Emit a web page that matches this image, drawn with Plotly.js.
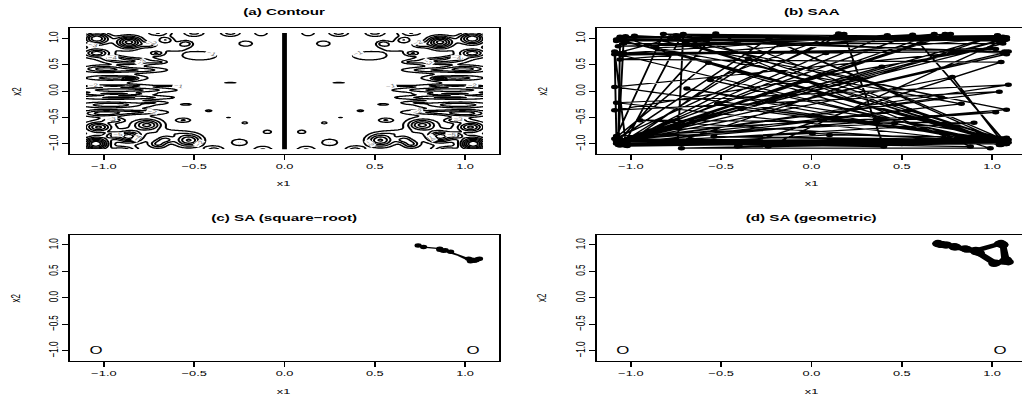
<!DOCTYPE html>
<html><head><meta charset="utf-8">
<script src="https://cdn.plot.ly/plotly-3.0.1.min.js"></script>
<style>
html,body{margin:0;padding:0;overflow:hidden;background:#fff;width:1022px;height:398px}
#wrap{width:645px;height:398px;transform:scaleX(1.6);transform-origin:0 0}
</style></head><body><div id="wrap"></div><script>
// ---------- tick labels ----------
const tickVals = [-1, -0.5, 0, 0.5, 1];
const tickText = ["\u22121.0", "\u22120.5", "0.0", "0.5", "1.0"];
const panelTitles = ["(a) Contour", "(b) SAA", "(c) SA (square\u2212root)", "(d) SA (geometric)"];

// ---------- (a) contour features (left half; the picture is mirror-symmetric in x1) ----------
const blobX  = [-1.045,-0.86,-0.76,-1.03,-0.53,-0.70,-0.90,-0.39,-0.25,-0.12,-0.095,-0.22,-0.56,-0.42,-0.545,-0.31,-0.65,
                -0.88,-0.88,-0.95,-0.95,-0.86,-1.0,-1.0,-0.80,-0.80,-0.30,-0.62,-0.72,
                -1.04,-0.86,-1.04,-0.71,-0.46,-0.545,-0.215,-0.70,-0.50,-0.30,-0.13,-0.85,-0.70,-0.62,
                -1.05,-1.0,-1.0,
                -0.95,-0.75,-0.95,-0.66,-0.95,-0.66,-0.93,-0.93];
const blobY  = [-1.00,-0.86,-0.64,-0.68,-0.93,-1.00,-1.12,-1.12,-0.97,-1.12,-0.77,-0.60,-0.55,-0.37,-0.25,-0.50,-0.80,
                 0.02,-0.12,-0.26,0.25,0.24,0.42,-0.42,0.40,-0.40,0.16,0.10,-0.22,
                 1.00,0.93,0.72,0.72,0.67,0.90,0.90,1.12,1.12,1.12,1.12,0.57,0.55,0.85,
                 0.0,0.75,-0.75,
                 0.62,0.88,-0.55,-0.92,-0.84,0.97,0.10,-0.05];
const blobDepth = [8.1,5.5,4.5,4.5,5.0,3.0,3.5,2.6,2.0,2.2,1.7,1.5,1.9,2.2,1.8,1.2,1.4,
                   2.6,2.2,2.6,2.3,3.2,3.0,3.2,2.0,2.2,1.6,1.3,1.3,
                   6.0,6.5,4.0,2.4,1.35,2.2,2.0,3.0,2.5,2.6,2.0,3.0,1.5,1.4,
                   1.3,1.0,1.0,
                   2.5,2.5,2.5,2.8,3.0,2.5,2.0,2.0];
const blobSx = [0.05,0.045,0.05,0.045,0.05,0.03,0.05,0.04,0.035,0.04,0.02,0.015,0.03,0.012,0.022,0.015,0.08,
                0.18,0.18,0.12,0.10,0.025,0.08,0.08,0.10,0.10,0.03,0.05,0.06,
                0.05,0.05,0.045,0.025,0.10,0.025,0.03,0.05,0.04,0.04,0.03,0.08,0.03,0.06,
                0.25,0.2,0.2,
                0.04,0.03,0.04,0.03,0.03,0.03,0.12,0.12];
const blobSy = [0.085,0.07,0.07,0.06,0.08,0.05,0.05,0.06,0.05,0.06,0.03,0.02,0.03,0.012,0.012,0.006,0.05,
                0.03,0.025,0.035,0.03,0.02,0.04,0.04,0.03,0.03,0.006,0.008,0.02,
                0.08,0.08,0.05,0.03,0.09,0.04,0.04,0.06,0.06,0.06,0.06,0.04,0.02,0.06,
                0.7,0.2,0.2,
                0.03,0.04,0.03,0.04,0.04,0.04,0.015,0.015];
const zeroLineX = [0, 0];
const zeroLineY = [-1.1, 1.1];

// ---------- (b) SAA path ----------
const saaX = [-1.05,-1.08,-1.03,-1.07,-1.02,-1.06,1.05,1.08,1.03,1.09,-1.04,-0.72,-1.08,1.07,-1.06,-1.09,-1.03,0.88,-0.35,-1.02,
  1.06,1.08,1.05,0.46,-1.08,-0.82,1.06,1.08,1.03,-1.05,-1.08,-1.03,-0.98,1.04,-1.07,0.78,1.06,-0.57,-1.09,0.18,
  0.40,-1.06,0.74,-1.05,1.08,1.09,-1.07,1.07,-0.52,1.05,-0.71,-0.74,1.03,-1.06,0.54,1.08,-1.09,1.02,-1.04,0.42,
  -1.02,0.72,-0.78,1.07,-1.08,1.09,-1.06,0.005,1.06,-0.39,-1.05,0.15,-0.56,1.05,-0.24,1.07,-1.08,0.83,-1.07,0.56,
  -0.86,1.06,-1.06,0.10,1.08,-0.69,1.04,-1.05,0.99,-1.09,1.04,-1.06,0.39,-1.08,1.06,-0.98,1.08,-1.05,-0.17,1.06,
  -0.54,1.07,-1.07,0.68,-1.06,1.05,-0.41,1.05,-1.04,0.08,1.08,-1.06,0.99,-0.72,1.08,-0.235,-1.08,1.02,-0.90,1.06,
  -1.07,0.77,-1.05,1.07,-0.70,1.06,-1.06,0.90,-0.95,1.04,-0.53,-1.07,1.08,0.60,-1.04,1.06,-1.06,1.05,-1.08,-1.09,
  -1.08,1.07,-1.05,0.50,1.06,-1.07,-1.06,1.05,-0.75,1.07,-1.04,-1.07,-1.02,1.06,1.08,1.04,-1.08,-1.05,1.09,-1.06];
const saaY = [-0.97,-0.99,-1.03,-0.95,-0.90,-1.01,-0.95,-0.90,-0.93,-0.92,-1.02,1.05,0.72,0.75,0.70,0.75,-0.95,-1.05,0.62,-0.98,
  -0.92,-1.00,-1.02,-0.61,-0.85,1.08,1.03,0.98,1.05,1.00,0.98,1.04,1.03,0.95,-0.97,0.27,-0.98,0.54,-0.90,1.08,
  -1.05,-0.99,1.08,-0.94,0.70,0.75,0.98,-0.96,-0.24,-0.91,1.08,-0.96,1.06,-1.00,-0.36,-0.95,0.08,0.80,0.72,1.06,
  -0.93,-0.12,1.02,-1.00,-0.22,0.12,-0.96,-0.80,-0.94,-0.34,-1.00,1.09,0.21,-0.99,-1.05,0.98,0.95,-0.24,-0.94,1.07,
  0.82,-0.93,-1.03,-0.83,-0.88,0.05,-1.02,0.68,0.81,-0.36,-0.01,-0.92,0.46,-0.98,0.72,1.05,-0.35,-0.97,0.90,-0.96,
  -0.86,-0.92,-1.00,1.08,0.60,0.55,-1.05,-0.97,-0.95,0.72,1.02,1.03,-1.08,-1.08,-0.94,1.00,-0.93,-0.40,-0.75,0.98,
  0.85,1.08,-0.96,-0.97,0.90,-0.90,-0.98,-0.60,-0.55,-0.98,1.09,-0.95,-0.99,0.90,0.90,0.90,-0.92,-1.00,-0.95,0.70,
  -0.90,-0.96,-0.93,-1.00,-0.99,-1.02,1.02,1.00,1.06,0.97,0.98,-0.97,-1.04,-0.95,-1.00,-0.90,-0.94,-1.01,-0.97,-0.92];

// ---------- (c) SA square-root path ----------
const sqX = [0.74,0.77,0.86,0.89,1.02,1.05,1.07,1.08,1.03,0.92,0.86,0.88,1.04,1.06];
const sqY = [0.99,0.96,0.93,0.90,0.74,0.70,0.73,0.74,0.69,0.87,0.91,0.89,0.72,0.71];

// ---------- (d) SA geometric path ----------
const geoX = [0.70,0.72,0.75,0.79,0.85,0.91,1.05,1.06,1.07,1.09,1.01,0.91,0.79,0.72,0.71,0.80,0.91,1.04,1.06,1.08,1.07,1.02,0.93,0.86,0.74,0.70];
const geoY = [1.02,1.01,1.00,0.97,0.93,0.89,1.03,1.00,0.69,0.68,0.65,0.87,0.96,1.01,1.02,0.96,0.90,1.02,1.01,0.72,0.70,0.66,0.85,0.92,1.00,1.03];

// ---------- global minima markers ----------
const optX = [-1.0445, 1.0445];
const optY = [-1.0084, -1.0084];
const optText = ["O", "O"];

// ---------- build contour table ----------
const gridX = [], gridY = [];
for (let i = 0; i <= 220; i++) { gridX.push(-1.1 + i * 0.01); gridY.push(-1.1 + i * 0.01); }
const zGrid = gridY.map(y => gridX.map(x => {
  let z = 0;
  for (let k = 0; k < blobX.length; k++) {
    for (const s of [1, -1]) {
      const dx = (x - s * blobX[k]) / blobSx[k];
      const dy = (y - blobY[k]) / blobSy[k];
      z -= blobDepth[k] * Math.exp(-0.5 * (dx * dx + dy * dy));
    }
  }
  return z;
}));

const FONT = "Liberation Sans, Arial, sans-serif";
const optTrace = (xa, ya) => ({type:'scatter', mode:'text', x:optX, y:optY, text:optText, xaxis:xa, yaxis:ya,
  textposition:'middle center', textfont:{size:10.5, family:FONT, color:'#000'}, hoverinfo:'skip'});
const traces = [
  {type:'contour', x:gridX, y:gridY, z:zGrid, xaxis:'x', yaxis:'y', showscale:false, hoverinfo:'skip',
   contours:{start:-8, end:-1, size:1, coloring:'none', showlabels:true, labelfont:{size:5, color:'#666', family:FONT}},
   line:{color:'#000', width:1.3, smoothing:1}},
  {type:'scatter', mode:'lines', x:zeroLineX, y:zeroLineY, xaxis:'x', yaxis:'y', line:{color:'#000', width:3}, hoverinfo:'skip'},
  {type:'scatter', mode:'lines+markers', x:saaX, y:saaY, xaxis:'x2', yaxis:'y2', line:{color:'#000', width:1.2}, marker:{color:'#000', size:4.5}},
  {type:'scatter', mode:'lines+markers', x:sqX, y:sqY, xaxis:'x3', yaxis:'y3', line:{color:'#000', width:1.2}, marker:{color:'#000', size:4.5}},
  optTrace('x3','y3'),
  {type:'scatter', mode:'lines+markers', x:geoX, y:geoY, xaxis:'x4', yaxis:'y4', line:{color:'#000', width:4}, marker:{color:'#000', size:7}},
  optTrace('x4','y4')
];

const W = 645, H = 398;
const xDom = [[43.75/W, 311.9/W], [373.1/W, 641.25/W]];
const yDom = [[1-153.9/H, 1-28.4/H], [1-360.7/H, 1-235/H]];
function xa(d, anchor) {
  return {domain:d, anchor:anchor, range:[-1.188,1.188], tickvals:tickVals, ticktext:tickText, ticks:'outside', ticklen:5,
    tickwidth:1, tickcolor:'#000', showline:true, mirror:true, linecolor:'#000', linewidth:1, showgrid:false, zeroline:false,
    tickfont:{size:8, family:FONT, color:'#000'}, fixedrange:true};
}
function ya(d, anchor) {
  return {domain:d, anchor:anchor, range:[-1.188,1.188], tickvals:tickVals, ticktext:tickText, ticks:'outside', ticklen:4,
    tickwidth:1, tickcolor:'#000', showline:true, mirror:true, linecolor:'#000', linewidth:1, showgrid:false, zeroline:false,
    tickangle:-90, ticklabelstandoff:-1, tickfont:{size:8, family:FONT, color:'#000'}, fixedrange:true};
}
const ann = [];
const cx = [(xDom[0][0]+xDom[0][1])/2, (xDom[1][0]+xDom[1][1])/2];
const titleY = [1-11.5/H, 1-217.5/H];
const x1Y = [1-183.5/H, 1-391.5/H];
const x2X = [10.6/W, 339.2/W];
const midY = [1-91.2/H, 1-297.8/H];
for (let p = 0; p < 4; p++) {
  const c = p % 2, r = Math.floor(p / 2);
  ann.push({text:'<b>'+panelTitles[p]+'</b>', x:cx[c], y:titleY[r], xref:'paper', yref:'paper', showarrow:false,
    xanchor:'center', yanchor:'middle', font:{size:9.5, family:FONT, color:'#000'}});
  ann.push({text:'x1', x:cx[c], y:x1Y[r], xref:'paper', yref:'paper', showarrow:false, xanchor:'center', yanchor:'middle',
    font:{size:8, family:FONT, color:'#000'}});
  ann.push({text:'x2', x:x2X[c], y:midY[r], xref:'paper', yref:'paper', showarrow:false, xanchor:'center', yanchor:'middle',
    textangle:-90, font:{size:8, family:FONT, color:'#000'}});
}
const layout = {
  width:W, height:H, margin:{l:0, r:0, t:0, b:0}, paper_bgcolor:'#fff', plot_bgcolor:'#fff', showlegend:false,
  xaxis:xa(xDom[0],'y'), yaxis:ya(yDom[0],'x'),
  xaxis2:xa(xDom[1],'y2'), yaxis2:ya(yDom[0],'x2'),
  xaxis3:xa(xDom[0],'y3'), yaxis3:ya(yDom[1],'x3'),
  xaxis4:xa(xDom[1],'y4'), yaxis4:ya(yDom[1],'x4'),
  annotations:ann
};
Plotly.newPlot('wrap', traces, layout, {displayModeBar:false, staticPlot:true});
</script></body></html>
